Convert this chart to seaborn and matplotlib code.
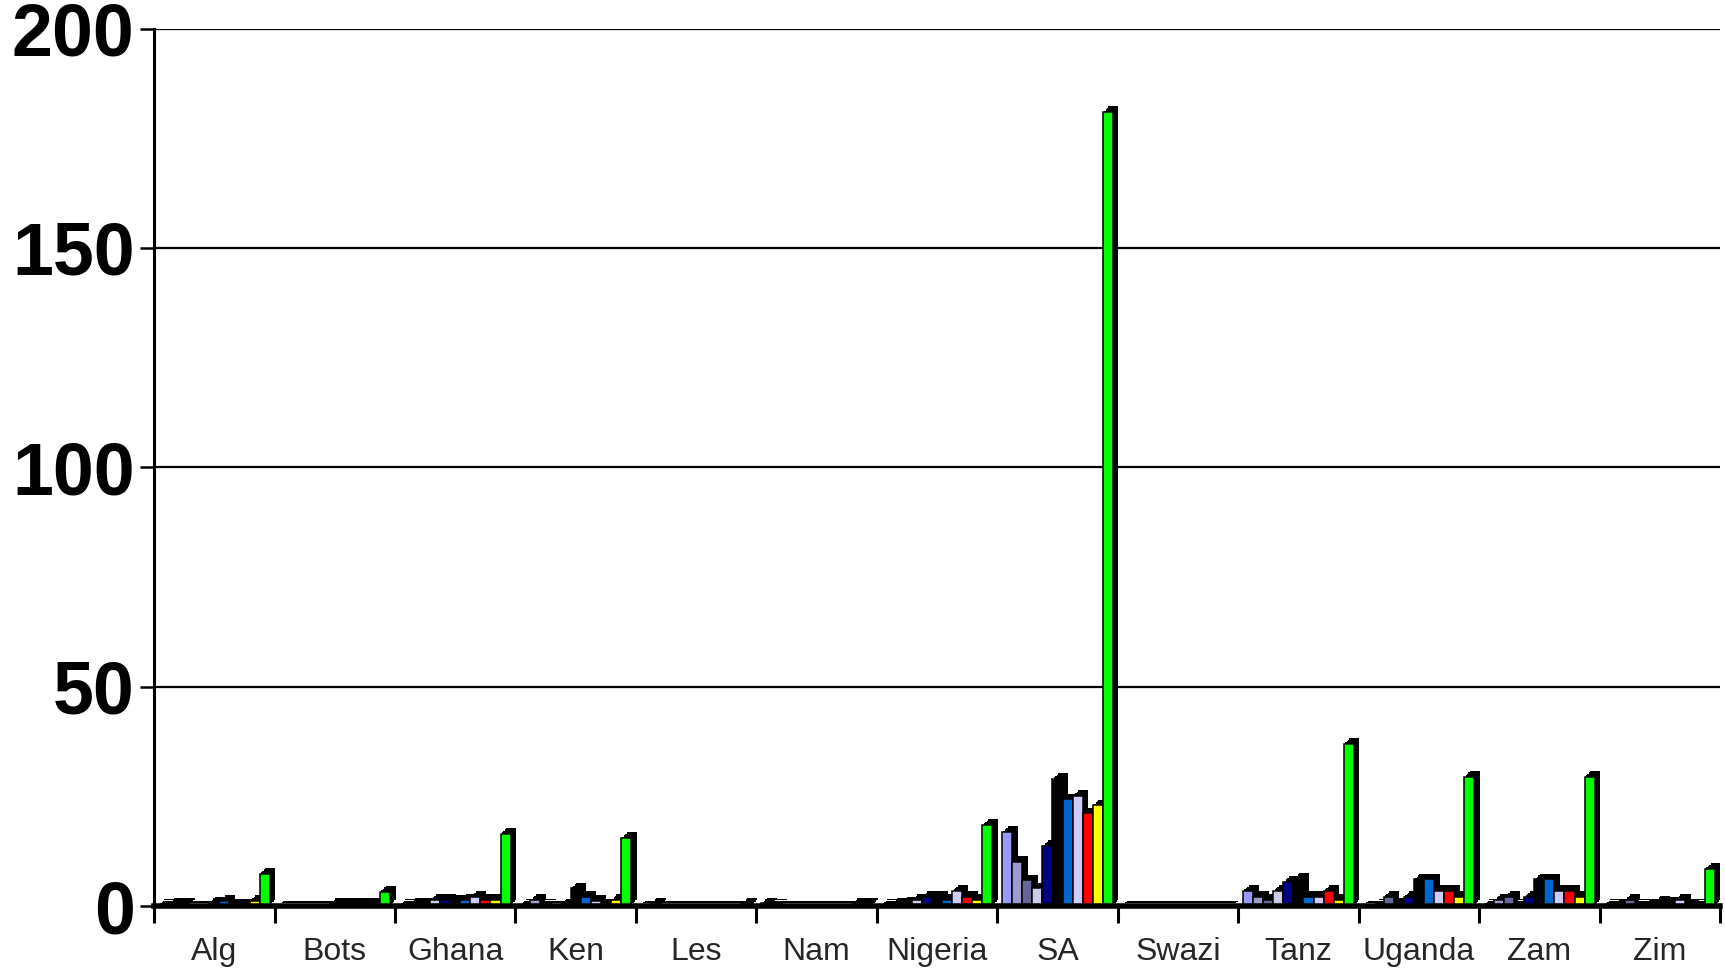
import numpy as np
import pandas as pd
import seaborn as sns
import matplotlib
matplotlib.use("Agg")
import matplotlib.pyplot as plt
from matplotlib import patheffects as pe

# Countries along the x axis
countries = ["Alg", "Bots", "Ghana", "Ken", "Les", "Nam", "Nigeria", "SA",
             "Swazi", "Tanz", "Uganda", "Zam", "Zim"]

# Eleven series per country
series = [f"Series {i}" for i in range(1, 12)]
colors = ["#9999FF", "#9C9CCE", "#666699", "#CCCCE8", "#000080", "#000000",
          "#0066CC", "#CCCCFF", "#FF0000", "#FFFF00", "#00FF00"]

# Values per country, one per series
alg     = [0.3, 0.6, 0.5, 0.2, 0.2, 0.8, 1.2, 0.4, 0.4, 1.2, 7.4]
bots    = [0.2, 0.2, 0.2, 0.2, 0.2, 0.5, 0.5, 0.5, 0.5, 0.5, 3.3]
ghana   = [0.3, 0.5, 0.6, 1.4, 1.4, 1.2, 1.4, 2.1, 1.4, 1.4, 16.5]
ken     = [0.3, 1.4, 0.3, 0.2, 0.4, 4.0, 2.1, 1.2, 0.4, 1.4, 15.5]
les     = [0.2, 0.6, 0.2, 0.2, 0.2, 0.2, 0.2, 0.2, 0.2, 0.2, 0.6]
nam     = [0.6, 0.3, 0.2, 0.2, 0.2, 0.2, 0.2, 0.2, 0.2, 0.5, 0.6]
nigeria = [0.3, 0.5, 0.8, 1.4, 2.1, 2.2, 1.4, 3.5, 2.1, 1.4, 18.5]
sa      = [16.9, 10.1, 5.9, 4.0, 13.7, 29.0, 24.3, 25.1, 21.1, 23.0, 181.0]
swazi   = [0.2, 0.2, 0.2, 0.2, 0.2, 0.2, 0.2, 0.2, 0.2, 0.2, 0.2]
tanz    = [3.5, 2.1, 1.4, 3.5, 5.5, 6.3, 2.1, 2.1, 3.5, 1.4, 37.0]
uganda  = [0.2, 0.3, 2.1, 0.5, 2.1, 6.1, 6.1, 3.5, 3.5, 2.1, 29.5]
zam     = [0.3, 1.4, 2.1, 0.3, 2.1, 6.1, 6.1, 3.5, 3.5, 2.1, 29.5]
zim     = [0.3, 0.4, 1.4, 0.3, 0.4, 1.0, 0.8, 1.4, 0.4, 0.3, 8.5]

yticks = [0, 50, 100, 150, 200]

rows = [alg, bots, ghana, ken, les, nam, nigeria, sa, swazi, tanz, uganda, zam, zim]
records = []
for c, vals in zip(countries, rows):
    for s, v in zip(series, vals):
        records.append({"country": c, "series": s, "value": v})
df = pd.DataFrame(records)

sns.set_style("white")
plt.rcParams["font.family"] = ["Liberation Sans", "DejaVu Sans"]

fig = plt.figure(figsize=(17.25, 9.71), dpi=100)
ax = fig.add_axes([0.0893, 0.0669, 0.9078, 0.9036])

sns.barplot(data=df, x="country", y="value", hue="series", order=countries,
            hue_order=series, palette=colors, saturation=1, width=0.92, gap=0,
            edgecolor="black", linewidth=1.1, legend=False, ax=ax, zorder=3)

# pseudo-3D depth: a solid black extrusion behind every bar
depth = [pe.SimplePatchShadow(offset=(d, d), shadow_rgbFace="black", alpha=1.0)
         for d in (4, 3, 2, 1)]
for p in ax.patches:
    p.set_path_effects(depth + [pe.Normal()])

ax.set_xlim(-0.5, len(countries) - 0.5)
ax.set_ylim(0, 200)
ax.set_xlabel("")
ax.set_ylabel("")

# horizontal gridlines
ax.set_yticks(yticks)
ax.set_yticklabels([str(t) for t in yticks], fontsize=53, fontweight="bold")
ax.yaxis.grid(True, color="black", linewidth=1.6, zorder=0)
ax.set_axisbelow(True)
ax.tick_params(axis="y", direction="out", length=10, width=1.8, pad=4,
               left=True, colors="black")

# category boundaries as long ticks, names centred between them
ax.set_xticks(np.arange(len(countries) + 1) - 0.5)
ax.set_xticklabels([""] * (len(countries) + 1))
ax.set_xticks(np.arange(len(countries)), minor=True)
ax.set_xticklabels(countries, minor=True, fontsize=23)
ax.tick_params(axis="x", which="major", direction="out", length=12, width=2.2,
               bottom=True, colors="black")
ax.tick_params(axis="x", which="minor", length=0, pad=22, bottom=True)

for side in ["top", "right"]:
    ax.spines[side].set_visible(False)
ax.spines["left"].set_linewidth(2.2)
ax.spines["left"].set_color("black")
ax.spines["bottom"].set_linewidth(4)
ax.spines["bottom"].set_color("black")
ax.spines["bottom"].set_zorder(5)
ax.spines["left"].set_zorder(5)

fig.savefig("out.png", dpi=100)
